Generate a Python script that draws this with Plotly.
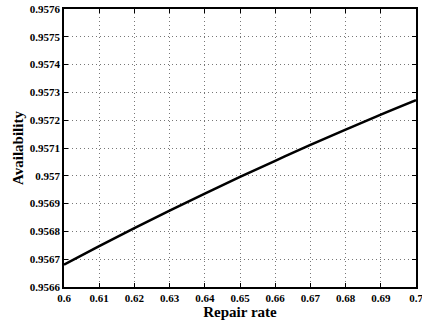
import plotly.graph_objects as go

repair_rate = [0.60, 0.61, 0.62, 0.63, 0.64, 0.65, 0.66, 0.67, 0.68, 0.69, 0.70]
availability = [0.956680, 0.956747, 0.956812, 0.956875, 0.956936, 0.956996,
                0.957054, 0.957111, 0.957166, 0.957220, 0.957272]

x_ticks = [0.60, 0.61, 0.62, 0.63, 0.64, 0.65, 0.66, 0.67, 0.68, 0.69, 0.70]
x_labels = ["0.6", "0.61", "0.62", "0.63", "0.64", "0.65", "0.66", "0.67", "0.68", "0.69", "0.7"]
y_ticks = [0.9566, 0.9567, 0.9568, 0.9569, 0.9570, 0.9571, 0.9572, 0.9573, 0.9574, 0.9575, 0.9576]
y_labels = ["0.9566", "0.9567", "0.9568", "0.9569", "0.957", "0.9571", "0.9572",
            "0.9573", "0.9574", "0.9575", "0.9576"]

font_family = "Liberation Serif, Times New Roman, serif"

fig = go.Figure()
fig.add_trace(go.Scatter(x=repair_rate, y=availability, mode="lines",
                         line=dict(color="black", width=2.5, shape="spline", smoothing=1.0),
                         showlegend=False, hoverinfo="skip"))

axis_common = dict(
    showline=True, linecolor="black", linewidth=1.5, mirror="ticks",
    ticks="inside", ticklen=4, tickcolor="black", tickwidth=1,
    showgrid=True, gridcolor="#777777", gridwidth=1, griddash="1px,3px",
    zeroline=False, automargin=False, ticklabeloverflow="allow",
    tickfont=dict(family=font_family, size=11, color="black", weight="bold"),
)

fig.update_xaxes(range=[0.6, 0.7], tickvals=x_ticks, ticktext=x_labels,
                 title=dict(text="Repair rate", standoff=1,
                            font=dict(family=font_family, size=15, color="black", weight="bold")),
                 **axis_common)
fig.update_yaxes(range=[0.9566, 0.9576], tickvals=y_ticks, ticktext=y_labels,
                 title=dict(text="Availability", standoff=3,
                            font=dict(family=font_family, size=15, color="black", weight="bold")),
                 **axis_common)

fig.update_layout(width=422, height=325,
                  margin=dict(l=64, r=6, t=9, b=38),
                  paper_bgcolor="white", plot_bgcolor="white",
                  font=dict(family=font_family, color="black"))

fig.write_html("out.html", config={"displayModeBar": False},
               post_script="document.body.style.margin='0';document.body.style.padding='0';")
